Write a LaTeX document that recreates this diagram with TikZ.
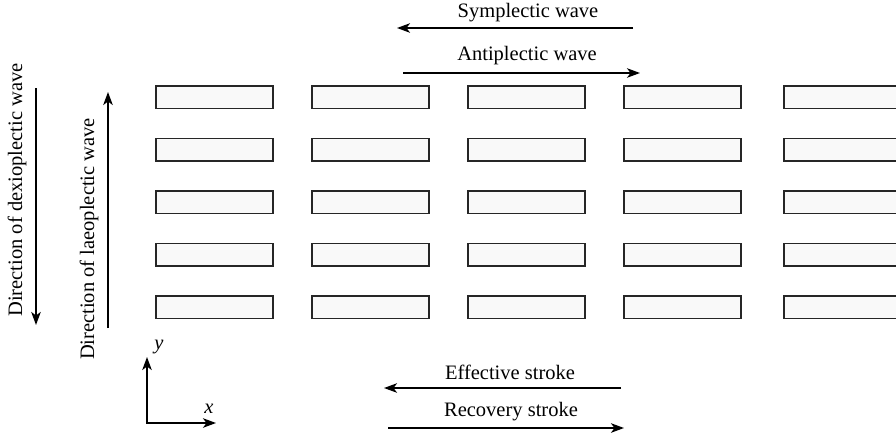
\documentclass[tikz,border=0pt]{standalone}
\usepackage{fontspec}
\setmainfont{Liberation Serif}
\usetikzlibrary{arrows.meta}
\begin{document}
\begin{tikzpicture}[x=1pt,y=-1pt,
  cell/.style={draw=black!85, line width=1.7pt, fill=black!2.5, minimum width=117pt, minimum height=22.5pt, inner sep=0pt, anchor=north west},
  arr/.style={line width=1.6pt, -{Stealth[length=13pt,width=9.5pt,inset=3.5pt]}},
  lbl/.style={font=\fontsize{20.5}{24}\selectfont, inner sep=0pt}]
\useasboundingbox (0,0) rectangle (896,434);
\clip (0,0) rectangle (896,434);
% cells
\foreach \c/\x in {1/155,2/311,3/467,4/623,5/783}{
  \foreach \r/\y in {1/85,2/137.5,3/190,4/242.5,5/295}{
    \node[cell] (r-\c-\r) at (\x,\y) {};
  }
}
% top arrows
\node[lbl] (sym) at (528,13) {Symplectic wave};
\coordinate (sym-a) at (633,28);
\coordinate (sym-b) at (397,28);
\draw[arr] (sym-a) -- (sym-b);
\node[lbl] (anti) at (527,56) {Antiplectic wave};
\coordinate (anti-a) at (403,73);
\coordinate (anti-b) at (640,73);
\draw[arr] (anti-a) -- (anti-b);
% left arrows
\node[lbl, rotate=90] (dex) at (17,190) {Direction of dexioplectic wave};
\coordinate (dex-a) at (36,88);
\coordinate (dex-b) at (36,325);
\draw[arr] (dex-a) -- (dex-b);
\node[lbl, rotate=90] (lae) at (89,239) {Direction of laeoplectic wave};
\coordinate (lae-a) at (108,328);
\coordinate (lae-b) at (108,92);
\draw[arr] (lae-a) -- (lae-b);
% axes
\coordinate (o) at (147,423);
\coordinate (ytip) at (147,357);
\coordinate (xtip) at (216,423);
\draw[line width=1.6pt] (ytip) ++(0,8) -- (o) -- ++(60,0);
\draw[arr] (o) -- (ytip);
\draw[arr] (o) -- (xtip);
\node[lbl] (ylbl) at (159,347) {\textit{y}};
\node[lbl] (xlbl) at (209,409) {\textit{x}};
% bottom arrows
\node[lbl] (eff) at (510,372) {Effective stroke};
\coordinate (eff-a) at (621,388);
\coordinate (eff-b) at (384,388);
\draw[arr] (eff-a) -- (eff-b);
\node[lbl] (rec) at (511,412) {Recovery stroke};
\coordinate (rec-a) at (388,428);
\coordinate (rec-b) at (624,428);
\draw[arr] (rec-a) -- (rec-b);
\end{tikzpicture}
\end{document}
